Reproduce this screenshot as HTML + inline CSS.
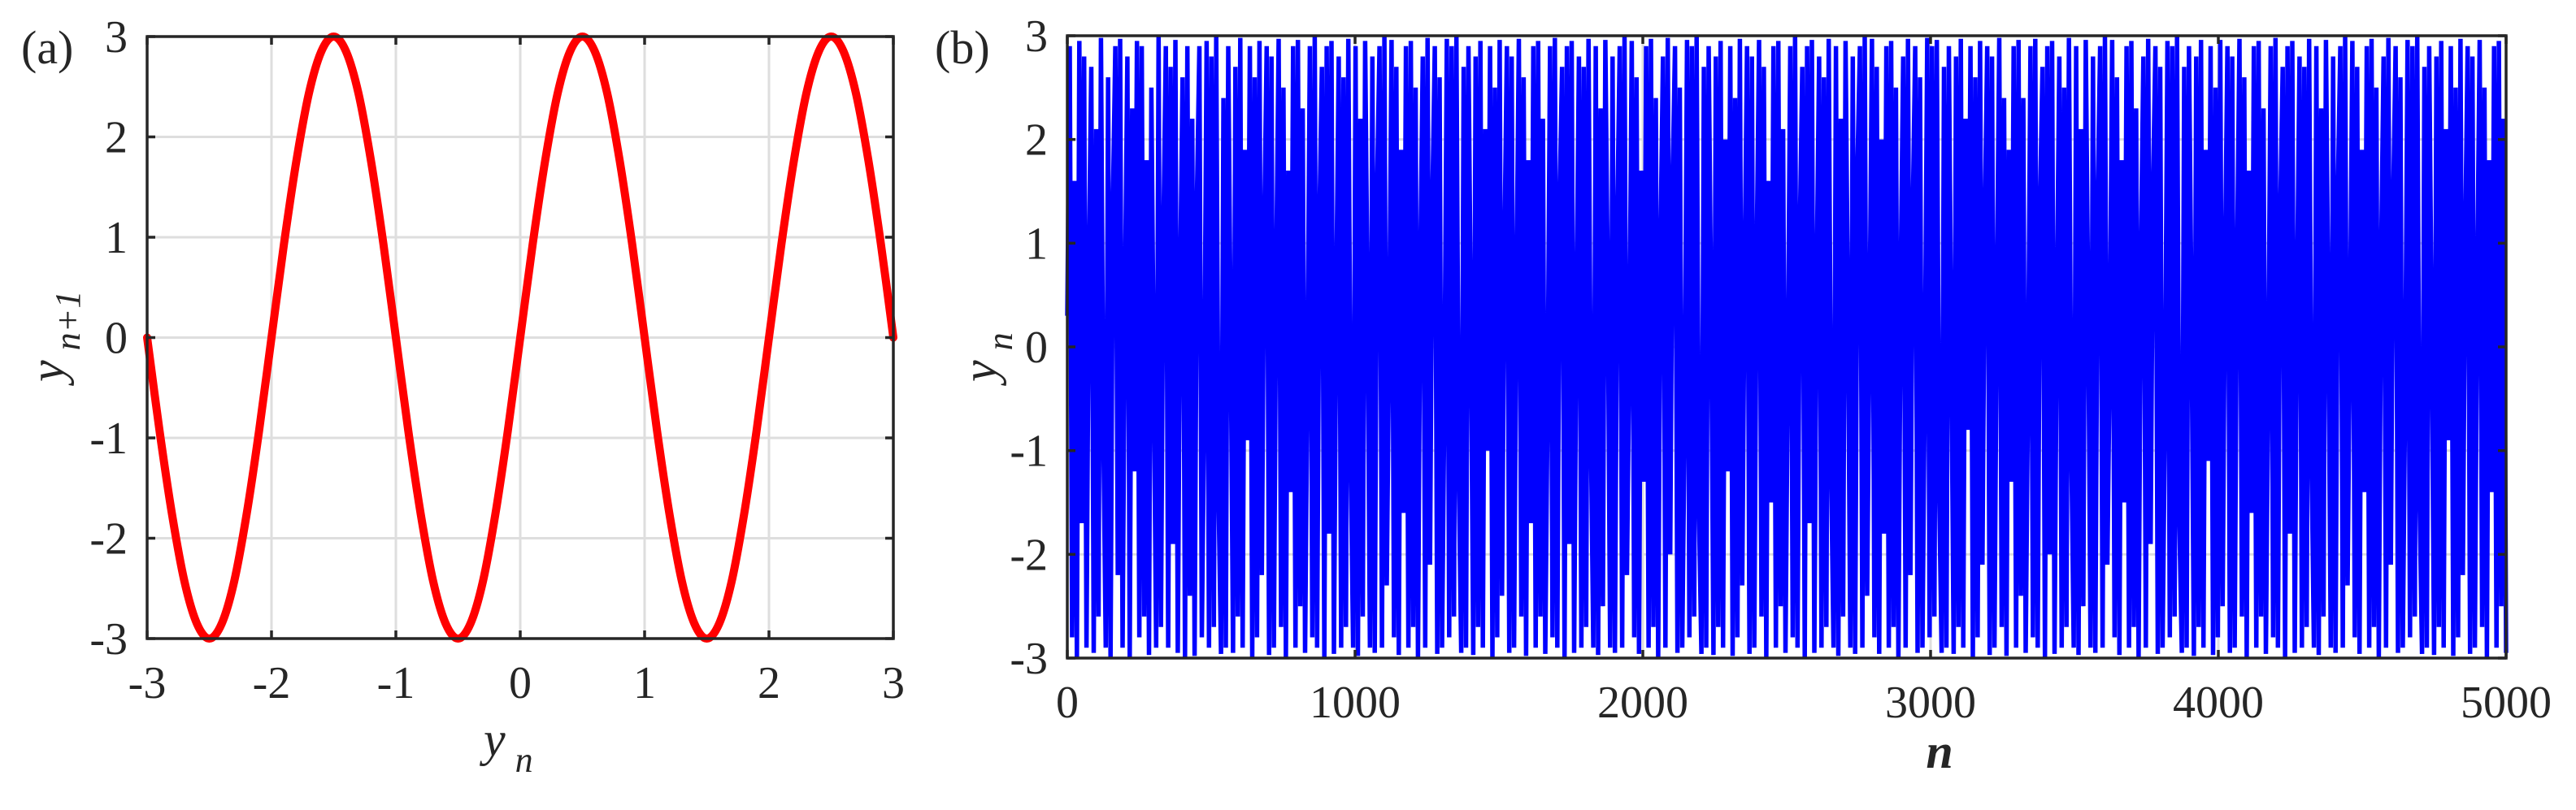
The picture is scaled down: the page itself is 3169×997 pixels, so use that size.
<!DOCTYPE html>
<html><head><meta charset="utf-8">
<style>
html,body{margin:0;padding:0;background:#fff;}
svg{display:block;}
text{font-family:"Liberation Serif","DejaVu Serif",serif;fill:#262626;}
</style></head>
<body>
<svg id="fig" width="3169" height="997" viewBox="0 0 3169 997" xmlns="http://www.w3.org/2000/svg">
<g id="pa"></g>
<g id="pb"></g>
</svg>
<script>
// Panel (a) data: return map y_{n+1} vs y_n
const aX = [-3,-2.9,-2.8,-2.7,-2.6,-2.5,-2.4,-2.3,-2.2,-2.1,-2,-1.9,-1.8,-1.7,-1.6,-1.5,-1.4,-1.3,-1.2,-1.1,-1,-0.9,-0.8,-0.7,-0.6,-0.5,-0.4,-0.3,-0.2,-0.1,0,0.1,0.2,0.3,0.4,0.5,0.6,0.7,0.8,0.9,1,1.1,1.2,1.3,1.4,1.5,1.6,1.7,1.8,1.9,2,2.1,2.2,2.3,2.4,2.5,2.6,2.7,2.8,2.9,3];
const aY = [0,-0.93,-1.76,-2.43,-2.85,-3,-2.85,-2.43,-1.76,-0.93,0,0.93,1.76,2.43,2.85,3,2.85,2.43,1.76,0.93,0,-0.93,-1.76,-2.43,-2.85,-3,-2.85,-2.43,-1.76,-0.93,0,0.93,1.76,2.43,2.85,3,2.85,2.43,1.76,0.93,0,-0.93,-1.76,-2.43,-2.85,-3,-2.85,-2.43,-1.76,-0.93,0,0.93,1.76,2.43,2.85,3,2.85,2.43,1.76,0.93,0];
const aXTicks = [-3,-2,-1,0,1,2,3];
const aYTicks = [-3,-2,-1,0,1,2,3];
// Panel (b) data: time series y_n
const bY = [
0.3,2.9,-2.8,1.6,-3,2.95,-1.7,2.8,-2.9,0.9,2.7,-2.95,2.1,-2.6,2.98,-0.8,-2.9,2.6,-3,1.4,
2.9,-2.2,2.97,-2.9,0.5,2.8,-3,2.3,-1.2,2.95,-2.8,2.9,-2.6,1.8,-2.97,2.5,-0.3,-2.9,2.99,-2.7,
1.1,2.9,-2.9,2.7,-1.9,2.96,-2.95,0.7,2.6,-3,2.9,-2.4,2.2,-2.98,1.5,2.9,-2.8,-0.6,2.95,-2.9,
2.8,-2.7,2.99,-1.5,-2.96,2.4,-2.9,2.9,0.2,-2.95,2.7,-2.6,2.98,-2.9,1.9,-0.9,2.9,-3,2.6,-2.8,
2.95,-2.2,1.2,2.9,-2.97,2.8,-2.9,0.8,2.97,-2.7,2.5,-2.99,1.7,-1.4,2.9,-2.9,2.96,-2.5,2.3,-2.95,
-0.2,2.9,-2.8,2.99,-2.9,1.3,2.7,-3,2.9,-1.8,2.95,-2.96,0.6,2.8,-2.9,2.6,-2.7,2.97,-1.1,-2.9,
2.9,-2.98,2.2,-2.6,2.95,0.4,-2.9,2.8,-2.95,1.6,2.9,-2.9,2.99,-2.3,0.1,2.96,-2.8,2.7,-2.97,1.9,
-1.6,2.9,-2.9,2.95,-2.7,2.5,-3,0.9,2.8,-2.9,2.98,-2.1,1.4,2.9,-2.96,2.6,-2.9,-0.5,2.97,-2.8,
2.9,-2.6,2.99,-1.3,-2.95,2.7,-2.9,2.9,0.3,-2.97,2.8,-2.7,2.95,-2.9,2.1,-1,2.9,-2.99,2.5,-2.8,
2.96,-2.4,1.0,2.9,-2.95,2.8,-2.9,0.7,2.97,-2.6,2.6,-2.98,1.8,-1.7,2.9,-2.9,2.95,-2.6,2.2,-2.96,
-0.4,2.9,-2.8,2.98,-2.9,1.5,2.7,-2.99,2.9,-1.9,2.95,-2.95,0.4,2.8,-2.9,2.7,-2.7,2.97,-0.9,-2.9,
2.9,-2.97,2.3,-2.5,2.96,0.6,-2.9,2.8,-2.95,1.3,2.9,-2.9,2.99,-2.2,0.0,2.95,-2.8,2.6,-2.96,1.7,
-1.3,2.9,-2.9,2.97,-2.7,2.4,-3,1.1,2.8,-2.9,2.98,-2.0,1.6,2.9,-2.95,2.5,-2.9,-0.7,2.96,-2.8,
2.9,-2.6,2.99,-1.6,-2.96,2.7,-2.9,2.9,0.5,-2.97,2.8,-2.7,2.95,-2.9,2.0,-1.2,2.9,-2.98,2.4,-2.8,
2.97,-2.3,0.8,2.9,-2.96,2.8,-2.9,0.9,2.96,-2.6,2.7,-2.99,1.6,-1.5,2.9,-2.9,2.95,-2.5,2.1,-2.95,
-0.1,2.9,-2.8,2.99,-2.9,1.2,2.7,-3,2.9,-1.7,2.96,-2.95,0.7,2.8,-2.9,2.6,-2.7,2.97,-1.2,-2.9,
2.9,-2.98,2.2,-2.6,2.95,0.3,-2.9,2.8,-2.96,1.8,2.9,-2.9,2.99,-2.4,0.2,2.97,-2.8,2.7,-2.96,2.0,
-1.8,2.9,-2.9,2.95,-2.7,2.5,-3,0.8,2.8,-2.9,2.97,-2.2,1.3,2.9,-2.95,2.6,-2.9,-0.3,2.98,-2.8,
2.9,-2.6,2.96,-1.4,-2.95,2.7,-2.9,2.9,0.1,-2.96,2.8,-2.7,2.97,-2.9,2.2,-0.8,2.9,-2.99,2.6,-2.8,
2.95,-2.1,1.3,2.9,-2.97,2.8,-2.9,0.6,2.98,-2.7,2.4,-2.98,1.9,-1.3,2.9,-2.9,2.96,-2.4,2.4,-2.95,
-0.3,2.9,-2.8,2.97,-2.9,1.4,2.7,-2.99,2.9,-2.0,2.95,-2.96,0.5,2.8,-2.9,2.5,-2.7,2.98,-1.0,-2.9,
2.9,-2.97,2.1,-2.5,2.96,0.5,-2.9,2.8,-2.95,1.5,2.9,-2.9,2.99,-2.1,-0.1,2.96,-2.8,2.6,-2.97,1.8,
-1.5,2.9,-2.9,2.95,-2.7,2.3,-3,1.0,2.8,-2.9,2.97,-1.9,1.5,2.9,-2.96,2.7,-2.9,-0.6,2.95,-2.8,
2.9,-2.6,2.99,-1.7,-2.95,2.7,-2.9,2.9,0.4,-2.98,2.8,-2.7,2.96,-2.9,1.9,-1.1,2.9,-2.97,2.5,-2.8,
2.96,-2.5,0.9,2.9,-2.95,2.8,-2.9,0.8,2.97,-2.6,2.6,-2.99,1.7,-1.6,2.9,-2.9,2.95,-2.6,2.3,-2.96,
-0.2,2.9,-2.8,2.98,-2.9,1.3,2.7,-3,2.9,-1.8,2.95,-2.95,0.6,2.8,-2.9,2.7,-2.7,2.97,-1.1,-2.9,
2.9,-2.97,2.3,-2.6,2.96,0.4,-2.9,2.8,-2.95,1.6,2.9,-2.9,2.99,-2.3,0.1,2.95,-2.8,2.7,-2.96,1.9,
-1.4,2.9,-2.9,2.97,-2.7,2.5,-3,0.9,2.8,-2.9,2.98,-2.1,1.4,2.9,-2.95,2.6,-2.9,-0.4,2.96,-2.8,
2.9,-2.6,2.99,-1.5,-2.96,2.7,-2.9,2.9,0.2,-2.97,2.8,-2.7,2.95,-2.9,2.1,-0.9,2.9,-2.98,2.5,-2.8,
2.97,-2.2,1.1,2.9,-2.96,2.8,-2.9,0.7,2.96,-2.7,2.5,-2.99,1.8,-1.4,2.9,-2.9,2.95,-2.5,2.2,-2.95
];
const bXTicks = [0,1000,2000,3000,4000,5000];
const bYTicks = [-3,-2,-1,0,1,2,3];

const NS = "http://www.w3.org/2000/svg";
function mk(parent, tag, attrs, txt){
  const e = document.createElementNS(NS, tag);
  for (const k in attrs) e.setAttribute(k, attrs[k]);
  if (txt !== undefined) e.textContent = txt;
  parent.appendChild(e);
  return e;
}
function scale(d0,d1,r0,r1){ return v => r0 + (v-d0)/(d1-d0)*(r1-r0); }

function grid(g, L, T, R, B, xs, ys, xTicks, yTicks){
  xTicks.forEach(t=>{ const l=mk(g,'line',{x1:xs(t),x2:xs(t),y1:T,y2:B,stroke:'#dedede','stroke-width':3});
    
     });
  yTicks.forEach(t=>{ const l=mk(g,'line',{x1:L,x2:R,y1:ys(t),y2:ys(t),stroke:'#dedede','stroke-width':3});
    
     });
}
function frame(g, L, T, R, B, xs, ys, xTicks, yTicks){
  const r=mk(g,'rect',{x:L,y:T,width:R-L,height:B-T,fill:'none',stroke:'#262626','stroke-width':3.5});
  
  
  xTicks.forEach(t=>{
    const x=xs(t);
    mk(g,'line',{x1:x,x2:x,y1:B,y2:B-10,stroke:'#262626','stroke-width':3.5});
    mk(g,'line',{x1:x,x2:x,y1:T,y2:T+10,stroke:'#262626','stroke-width':3.5});
    const tx=mk(g,'text',{x:x,y:B+73,'font-size':56,'text-anchor':'middle'},String(t));
    
    
  });
  yTicks.forEach(t=>{
    const y=ys(t);
    mk(g,'line',{x1:L,x2:L+10,y1:y,y2:y,stroke:'#262626','stroke-width':3.5});
    mk(g,'line',{x1:R,x2:R-10,y1:y,y2:y,stroke:'#262626','stroke-width':3.5});
    const tx=mk(g,'text',{x:L-24,y:y+19,'font-size':56,'text-anchor':'end'},String(t));
    
    
  });
}
// smooth Catmull-Rom path through data points
function smoothPath(px, py){
  let d='M'+px[0].toFixed(1)+','+py[0].toFixed(1);
  for(let i=0;i<px.length-1;i++){
    const i0=Math.max(0,i-1), i3=Math.min(px.length-1,i+2);
    const c1x=px[i]+(px[i+1]-px[i0])/6, c1y=py[i]+(py[i+1]-py[i0])/6;
    const c2x=px[i+1]-(px[i3]-px[i])/6, c2y=py[i+1]-(py[i3]-py[i])/6;
    d+='C'+c1x.toFixed(1)+','+c1y.toFixed(1)+' '+c2x.toFixed(1)+','+c2y.toFixed(1)+' '+px[i+1].toFixed(1)+','+py[i+1].toFixed(1);
  }
  return d;
}

// Panel a
(function(){
  const g=document.getElementById('pa');
  const L=181,T=45,R=1099,B=786;
  const xs=scale(-3,3,L,R), ys=scale(-3,3,B,T);
  grid(g,L,T,R,B,xs,ys,aXTicks,aYTicks);
  const d=smoothPath(aX.map(xs), aY.map(ys));
  const p=mk(g,'path',{d:d,fill:'none',stroke:'#ff0000','stroke-width':10,'stroke-linejoin':'round','stroke-linecap':'round'});
  
  
  frame(g,L,T,R,B,xs,ys,aXTicks,aYTicks);
  const lab=mk(g,'text',{x:26,y:78,'font-size':58},'(a)');
  
  
  const xl=mk(g,'text',{x:595,y:930,'font-size':60,'font-style':'italic'});
  
  
  xl.innerHTML='y<tspan dx="12" dy="20" font-size="44">n</tspan>';
  const yl=mk(g,'text',{x:0,y:0,'font-size':60,'font-style':'italic',transform:'translate(78,470) rotate(-90)'});
  
  
  yl.innerHTML='y<tspan dx="12" dy="20" font-size="44">n+1</tspan>';
})();

// Panel b
(function(){
  const g=document.getElementById('pb');
  const L=1313,T=44,R=3083,B=810;
  const xs=scale(0,5000,L,R), ys=scale(-3,3,B,T);
  grid(g,L,T,R,B,xs,ys,bXTicks,bYTicks);
  const step=5000/(bY.length-1);
  const d=bY.map((v,i)=>(i?'L':'M')+xs(i*step).toFixed(1)+','+ys(v).toFixed(1)).join('');
  const p=mk(g,'path',{d:d,fill:'none',stroke:'#0000ff','stroke-width':5.5,'stroke-linejoin':'bevel'});
  
  
  frame(g,L,T,R,B,xs,ys,bXTicks,bYTicks);
  const lab=mk(g,'text',{x:1150,y:78,'font-size':58},'(b)');
  
  
  const xl=mk(g,'text',{x:2386,y:945,'font-size':60,'font-style':'italic','font-weight':'bold','text-anchor':'middle'},'n');
  
  
  const yl=mk(g,'text',{x:0,y:0,'font-size':60,'font-style':'italic',transform:'translate(1225,470) rotate(-90)'});
  
  
  yl.innerHTML='y<tspan dx="12" dy="20" font-size="44">n</tspan>';
})();
</script>
</body></html>
